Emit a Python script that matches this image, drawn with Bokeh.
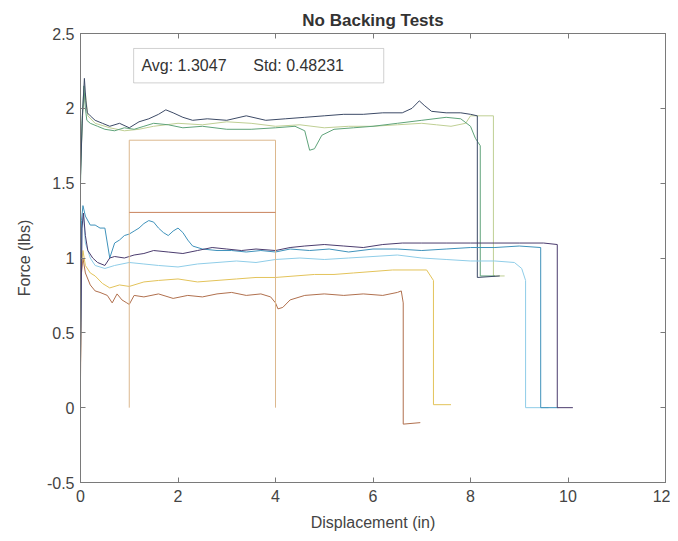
from bokeh.plotting import figure
from bokeh.models import LinearAxis, FixedTicker, BoxAnnotation, Label, Range1d
from bokeh.embed import file_html
from bokeh.resources import INLINE

TITLE = "No Backing Tests"
X_LABEL = "Displacement (in)"
Y_LABEL = "Force (lbs)"
X_TICKS = [0, 2, 4, 6, 8, 10, 12]
Y_TICKS = [-0.5, 0, 0.5, 1, 1.5, 2, 2.5]
Y_TICK_LABELS = ["-0.5", "0", "0.5", "1", "1.5", "2", "2.5"]
AVG = 1.3047
STD = 0.48231
REGION_START = 1
REGION_END = 4

# upper tests
a_x = [0, 0.04, 0.08, 0.11, 0.14, 0.2, 0.3, 0.45, 0.6, 0.8, 1.0, 1.2, 1.4, 1.6, 1.75, 1.9, 2.1, 2.3, 2.6, 3.0,
       3.4, 3.8, 4.2, 4.6, 5.0, 5.4, 5.8, 6.2, 6.6, 6.8, 6.95, 7.05, 7.2, 7.5, 7.8, 8.0, 8.14, 8.14, 8.6]
a_y = [1.55, 1.95, 2.2, 2.05, 1.97, 1.95, 1.92, 1.9, 1.88, 1.9, 1.87, 1.91, 1.93, 1.96, 1.99, 1.97, 1.94, 1.92, 1.93, 1.92,
       1.95, 1.92, 1.93, 1.94, 1.95, 1.96, 1.96, 1.97, 1.97, 2.0, 2.05, 2.02, 1.98, 1.97, 1.97, 1.96, 1.95, 0.87, 0.88]

b_x = [0, 0.03, 0.07, 0.1, 0.13, 0.2, 0.35, 0.5, 0.7, 0.9, 1.1, 1.3, 1.5, 1.8, 2.1, 2.5, 3.0, 3.5, 4.0, 4.4,
       4.6, 4.7, 4.8, 4.95, 5.2, 5.6, 6.0, 6.5, 7.0, 7.5, 7.8, 8.0, 8.1, 8.2, 8.2, 8.5]
b_y = [1.5, 1.9, 2.15, 2.0, 1.92, 1.9, 1.88, 1.86, 1.85, 1.87, 1.86, 1.88, 1.9, 1.89, 1.87, 1.88, 1.86, 1.86, 1.87, 1.88,
       1.85, 1.72, 1.73, 1.82, 1.86, 1.87, 1.88, 1.9, 1.92, 1.94, 1.93, 1.88, 1.8, 1.75, 0.88, 0.88]

c_x = [0, 0.05, 0.1, 0.15, 0.3, 0.6, 0.9, 1.2, 1.5, 2.0, 2.5, 3.0, 3.5, 4.0, 4.5, 5.0, 5.5, 6.0, 6.5, 7.0,
       7.3, 7.6, 7.9, 8.0, 8.47, 8.47, 8.7]
c_y = [1.6, 2.0, 2.1, 1.95, 1.9, 1.87, 1.85, 1.86, 1.88, 1.9, 1.89, 1.91, 1.9, 1.88, 1.89, 1.87, 1.88, 1.88, 1.89, 1.9,
       1.89, 1.88, 1.9, 1.95, 1.95, 0.88, 0.88]

# lower tests
d_x = [0, 0.03, 0.06, 0.1, 0.15, 0.25, 0.35, 0.5, 0.6, 0.7, 0.9, 1.1, 1.3, 1.5, 1.8, 2.1, 2.4, 2.7, 3.0, 3.3,
       3.6, 4.0, 4.3, 4.6, 5.0, 5.4, 5.8, 6.2, 6.6, 7.0, 7.5, 8.0, 8.5, 9.0, 9.5, 9.78, 9.78, 10.1]
d_y = [0.3, 1.2, 1.3, 1.15, 1.05, 1.0, 0.97, 0.95, 1.0, 1.01, 1.0, 1.02, 1.03, 1.05, 1.04, 1.03, 1.05, 1.07, 1.06, 1.05,
       1.06, 1.05, 1.07, 1.08, 1.09, 1.08, 1.07, 1.09, 1.1, 1.1, 1.1, 1.1, 1.1, 1.1, 1.1, 1.09, 0.0, 0.0]

e_x = [0, 0.02, 0.05, 0.1, 0.2, 0.3, 0.4, 0.5, 0.6, 0.7, 0.8, 0.9, 1.0, 1.1, 1.2, 1.3, 1.4, 1.5, 1.6, 1.7,
       1.8, 1.9, 2.0, 2.1, 2.2, 2.3, 2.5, 2.8, 3.1, 3.4, 3.7, 4.0, 4.3, 4.7, 5.1, 5.5, 6.0, 6.5, 7.0, 7.5,
       8.0, 8.5, 9.0, 9.44, 9.44, 9.8]
e_y = [0.5, 1.25, 1.35, 1.28, 1.22, 1.22, 1.2, 1.2, 1.0, 1.1, 1.12, 1.15, 1.16, 1.18, 1.2, 1.23, 1.25, 1.24, 1.2, 1.17,
       1.15, 1.18, 1.2, 1.17, 1.12, 1.08, 1.06, 1.05, 1.05, 1.04, 1.05, 1.04, 1.06, 1.05, 1.06, 1.04, 1.06, 1.06, 1.05, 1.06,
       1.07, 1.07, 1.08, 1.07, 0.0, 0.0]

f_x = [0, 0.03, 0.06, 0.1, 0.2, 0.3, 0.5, 0.7, 1.0, 1.3, 1.6, 2.0, 2.4, 2.8, 3.2, 3.6, 4.0, 4.5, 5.0, 5.5,
       6.0, 6.5, 7.0, 7.5, 8.0, 8.5, 8.9, 9.05, 9.13, 9.13, 9.6]
f_y = [0.4, 1.2, 1.3, 1.1, 1.0, 0.95, 0.93, 0.95, 0.97, 0.96, 0.95, 0.94, 0.96, 0.97, 0.98, 0.97, 0.99, 1.0, 0.99, 1.0,
       1.01, 1.02, 1.0, 0.99, 0.98, 0.98, 0.97, 0.93, 0.85, 0.0, 0.0]

g_x = [0, 0.02, 0.05, 0.1, 0.2, 0.3, 0.45, 0.6, 0.8, 1.0, 1.3, 1.6, 2.0, 2.4, 2.8, 3.2, 3.6, 4.0, 4.4, 4.8,
       5.2, 5.6, 6.0, 6.4, 6.8, 7.1, 7.24, 7.24, 7.6]
g_y = [0.3, 0.95, 1.05, 0.95, 0.9, 0.88, 0.83, 0.8, 0.82, 0.81, 0.84, 0.85, 0.86, 0.84, 0.85, 0.86, 0.87, 0.87, 0.88, 0.89,
       0.89, 0.9, 0.91, 0.92, 0.92, 0.92, 0.85, 0.02, 0.02]

h_x = [0, 0.02, 0.05, 0.1, 0.2, 0.3, 0.4, 0.55, 0.65, 0.75, 0.85, 0.95, 1.0, 1.1, 1.3, 1.6, 1.9, 2.2, 2.5, 2.8,
       3.1, 3.4, 3.7, 3.9, 4.0, 4.05, 4.15, 4.3, 4.6, 5.0, 5.4, 5.8, 6.2, 6.5, 6.58, 6.62, 6.62, 6.97]
h_y = [0.2, 0.9, 1.0, 0.9, 0.82, 0.78, 0.77, 0.75, 0.7, 0.76, 0.72, 0.7, 0.69, 0.75, 0.74, 0.76, 0.73, 0.75, 0.74, 0.76,
       0.77, 0.75, 0.76, 0.74, 0.7, 0.66, 0.67, 0.72, 0.75, 0.76, 0.75, 0.76, 0.75, 0.77, 0.78, 0.7, -0.11, -0.1]

series = [
    (c_x, c_y, "#bfcf94"),
    (b_x, b_y, "#5fa37a"),
    (a_x, a_y, "#3c4a66"),
    (h_x, h_y, "#b0704e"),
    (g_x, g_y, "#e3c35a"),
    (f_x, f_y, "#8fcde8"),
    (e_x, e_y, "#3f92bb"),
    (d_x, d_y, "#4b3c6e"),
]

TXT = "#444444"
AX = "#7a7a7a"

p = figure(width=670, height=533, x_range=Range1d(0, 12), y_range=Range1d(-0.5, 2.5),
           output_backend="svg", toolbar_location=None, title=TITLE,
           min_border_left=80, min_border_right=5, min_border_top=33, min_border_bottom=51)
p.title.align = "center"
p.title.text_font = "Liberation Sans"
p.title.text_font_size = "17px"
p.title.text_font_style = "bold"
p.title.text_color = "#333333"
p.title.offset = 0
p.title.standoff = 8
p.xgrid.visible = False
p.ygrid.visible = False
p.outline_line_color = AX
p.background_fill_color = "white"
p.border_fill_color = "white"

for ax, ticks in ((p.xaxis[0], X_TICKS), (p.yaxis[0], Y_TICKS)):
    ax.ticker = FixedTicker(ticks=ticks)
    ax.major_tick_in = 5
    ax.major_tick_out = 0
    ax.minor_tick_line_color = None
    ax.axis_line_color = AX
    ax.major_tick_line_color = AX
    ax.major_label_text_font = "Liberation Sans"
    ax.major_label_text_font_size = "16px"
    ax.major_label_text_color = TXT
    ax.axis_label_text_font = "Liberation Sans"
    ax.axis_label_text_font_size = "16px"
    ax.axis_label_text_font_style = "normal"
    ax.axis_label_text_color = TXT
p.yaxis[0].major_label_overrides = {t: l for t, l in zip(Y_TICKS, Y_TICK_LABELS)}
p.xaxis[0].major_label_overrides = {t: str(t) for t in X_TICKS}
p.xaxis[0].axis_label = X_LABEL
p.yaxis[0].axis_label = Y_LABEL
p.xaxis[0].major_label_standoff = 7
p.yaxis[0].major_label_standoff = 6
p.xaxis[0].axis_label_standoff = 9
p.yaxis[0].axis_label_standoff = 11

for loc, ticks in (("above", X_TICKS), ("right", Y_TICKS)):
    ax = LinearAxis(ticker=FixedTicker(ticks=ticks), major_tick_in=5, major_tick_out=0,
                    minor_tick_line_color=None, axis_line_color=AX, major_tick_line_color=AX,
                    major_label_text_font_size="0px", major_label_standoff=0,
                    major_label_overrides={t: "" for t in ticks})
    p.add_layout(ax, loc)

for xs, ys, col in series:
    p.line(xs, ys, line_color=col, line_width=1)

# average +/- std region
top = AVG + STD
p.line([REGION_START, REGION_START, REGION_END, REGION_END], [0, top, top, 0],
       line_color="#dcb88e", line_width=1)
p.line([REGION_START, REGION_END], [AVG, AVG], line_color="#c9825c", line_width=1)

box = BoxAnnotation(left=1.09, right=6.22, top=2.4, bottom=2.17, fill_color="white", fill_alpha=1,
                    line_color="#666666", line_width=1)
p.add_layout(box)
gap = "\u00a0" * 6
p.add_layout(Label(x=1.25, y=2.285, text="Avg: %s%sStd: %s" % (AVG, gap, STD), text_font="Liberation Sans",
                   text_font_size="16px", text_color="#333333", text_baseline="middle"))

open("out.html", "w").write(file_html(p, INLINE))
